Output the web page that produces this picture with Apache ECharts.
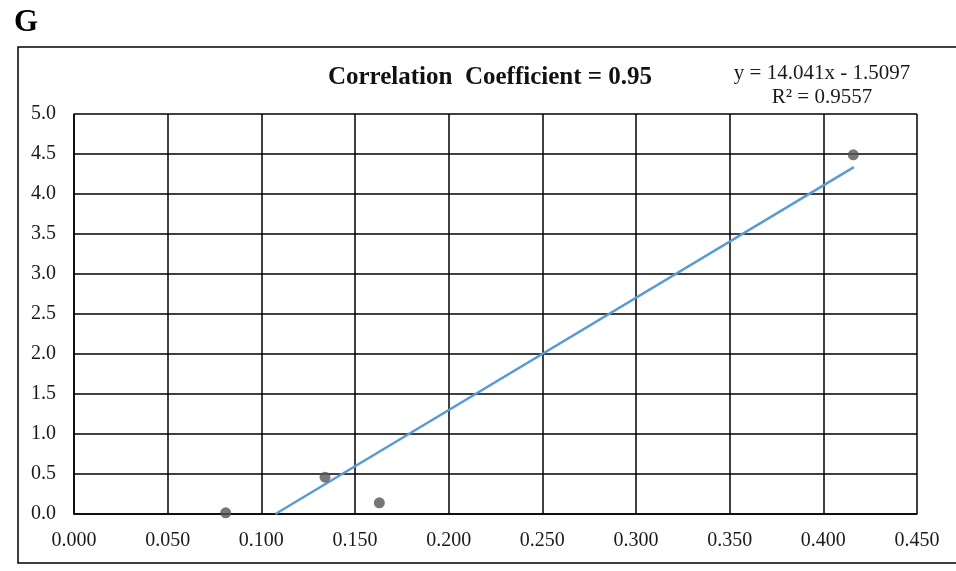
<!DOCTYPE html>
<html>
<head>
<meta charset="utf-8">
<script src="https://cdn.jsdelivr.net/npm/echarts@6/dist/echarts.min.js"></script>
<style>
html,body{margin:0;padding:0;background:#fff;}
#c{width:956px;height:571px;}
</style>
</head>
<body>
<div id="c"></div>
<script>
// Data
const xValues = [0.081, 0.134, 0.163, 0.416];
const yValues = [0.015, 0.46, 0.14, 4.49];
const trendSlope = 14.041;
const trendIntercept = -1.5097;
const trendXRange = [0.1075, 0.4163];
const titleText = 'Correlation  Coefficient = 0.95';
const equationText = 'y = 14.041x - 1.5097';
const r2Text = 'R² = 0.9557';
const panelLabel = 'G';

const points = xValues.map((x, i) => [x, yValues[i]]);
const trend = trendXRange.map(x => [x, trendSlope * x + trendIntercept]);

const serif = '"Liberation Serif", "Times New Roman", serif';
const chart = echarts.init(document.getElementById('c'), null, {renderer: 'canvas'});
chart.setOption({
  animation: false,
  backgroundColor: '#fff',
  grid: {left: 74, right: 39, top: 114, bottom: 57, containLabel: false},
  xAxis: {
    type: 'value', min: 0, max: 0.45, interval: 0.05,
    axisLine: {show: true, lineStyle: {color: '#000', width: 1.5}},
    axisTick: {show: false},
    splitLine: {show: true, lineStyle: {color: '#000', width: 1.5}},
    axisLabel: {color: '#1a1a1a', fontFamily: serif, fontSize: 20, margin: 17,
      formatter: v => v.toFixed(3)}
  },
  yAxis: {
    type: 'value', min: 0, max: 5, interval: 0.5,
    axisLine: {show: true, lineStyle: {color: '#000', width: 1.5}},
    axisTick: {show: false},
    splitLine: {show: true, lineStyle: {color: '#000', width: 1.5}},
    axisLabel: {color: '#1a1a1a', fontFamily: serif, fontSize: 20, margin: 18,
      formatter: v => v.toFixed(1)}
  },
  series: [
    {
      type: 'line', data: trend, showSymbol: false, symbol: 'none',
      lineStyle: {color: '#5B9BD5', width: 2.5}, z: 3
    },
    {
      type: 'scatter', data: points, symbol: 'circle', symbolSize: 11,
      itemStyle: {color: '#555555'}, z: 4
    }
  ],
  graphic: [
    {type: 'rect', shape: {x: 18, y: 47, width: 960, height: 516},
     style: {fill: 'none', stroke: '#000', lineWidth: 1.5}, silent: true, z: -1},
    {type: 'text', left: 14, top: 7,
     style: {text: panelLabel, fontFamily: serif, fontSize: 31, fontWeight: 'bold', fill: '#000'}},
    {type: 'text', x: 490, y: 78,
     style: {text: titleText, fontFamily: serif, fontSize: 25, fontWeight: 'bold', fill: '#111',
       textAlign: 'center', textVerticalAlign: 'middle'}},
    {type: 'text', x: 822, y: 73,
     style: {text: equationText, fontFamily: serif, fontSize: 21, fill: '#1a1a1a',
       textAlign: 'center', textVerticalAlign: 'middle'}},
    {type: 'text', x: 822, y: 97,
     style: {text: r2Text, fontFamily: serif, fontSize: 21, fill: '#1a1a1a',
       textAlign: 'center', textVerticalAlign: 'middle'}}
  ]
});
</script>
</body>
</html>
